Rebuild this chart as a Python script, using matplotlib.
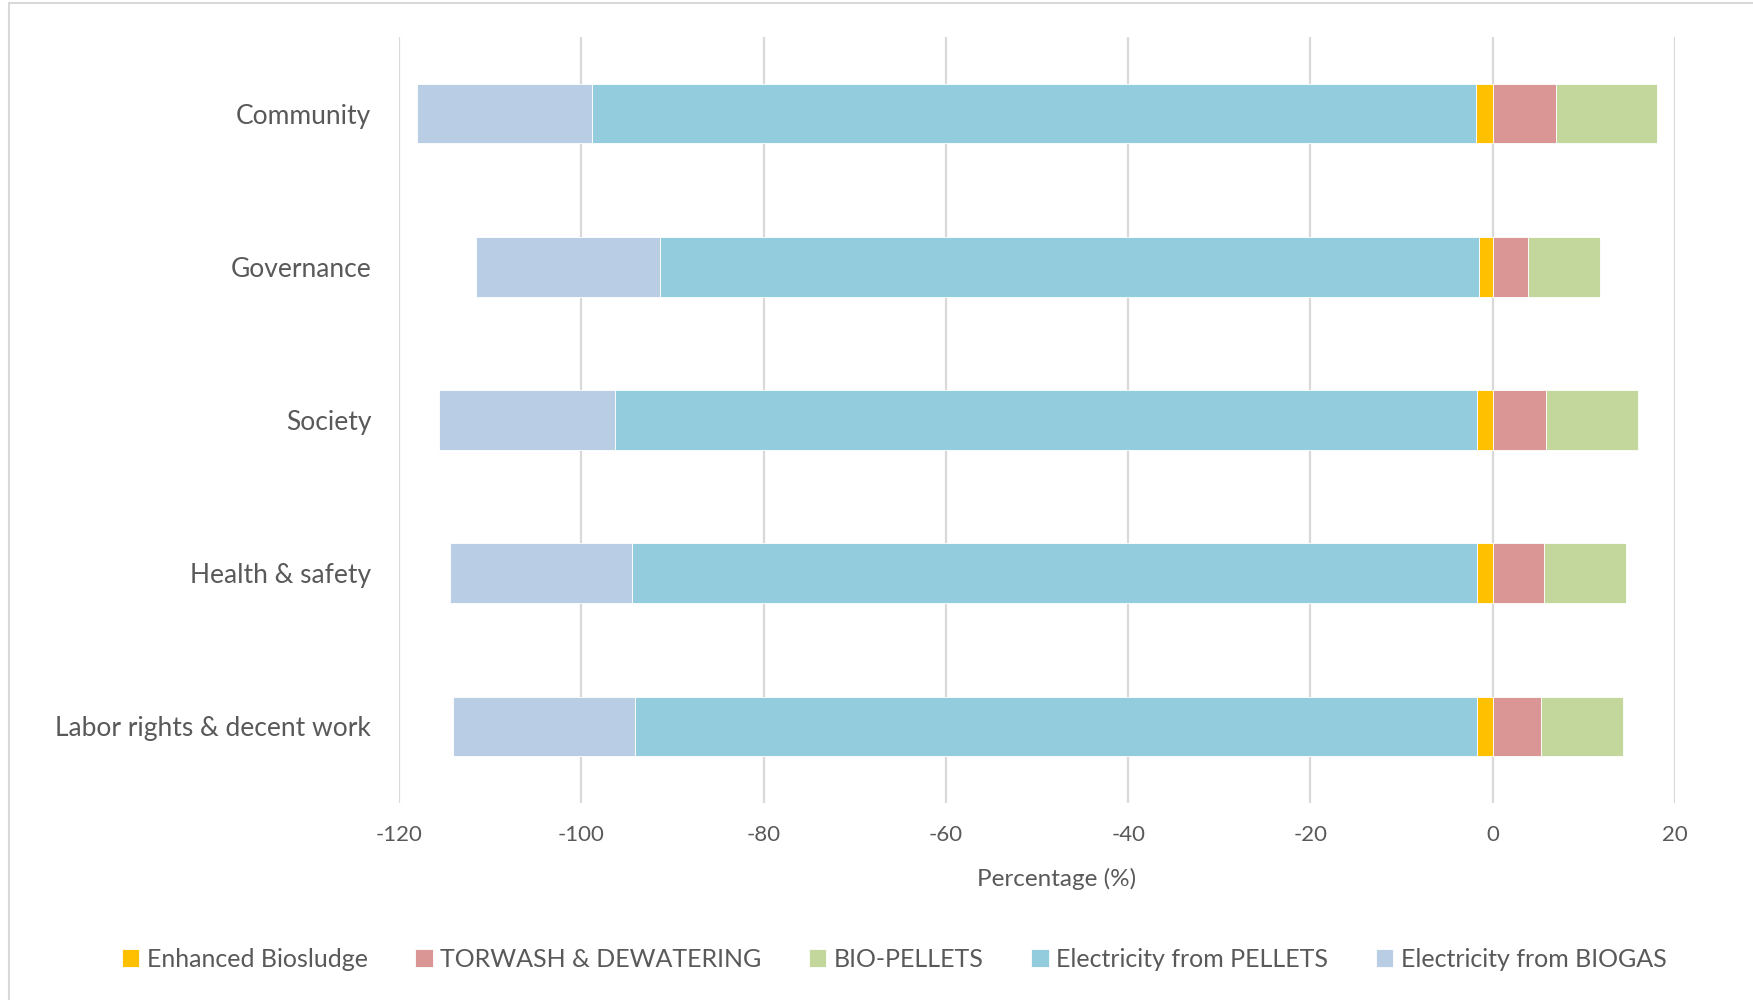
import numpy as np
import matplotlib.pyplot as plt
from matplotlib.patches import Rectangle

# categories bottom -> top
categories = ["Labor rights & decent work", "Health & safety", "Society", "Governance", "Community"]

# values (%)
biosludge = [-1.7, -1.7, -1.7, -1.5, -1.8]
torwash = [5.3, 5.6, 5.8, 3.9, 6.9]
bio_pellets = [9.0, 9.0, 10.1, 7.9, 11.1]
elec_pellets = [-92.4, -92.7, -94.6, -89.9, -97.0]
elec_biogas = [-20.0, -20.0, -19.3, -20.2, -19.2]

xticks = [-120, -100, -80, -60, -40, -20, 0, 20]

plt.rcParams['font.family'] = ['Lato', 'DejaVu Sans']
grey = '#595959'

fig = plt.figure(figsize=(17.53, 10), dpi=100)
ax = fig.add_axes([0.2276, 0.197, 0.7279, 0.766])

y = np.arange(len(categories))
h = 0.39
bs = np.array(biosludge)
ep = np.array(elec_pellets)
ax.barh(y, biosludge, h, color='#FFC000', edgecolor='white', linewidth=0.6, label='Enhanced Biosludge', zorder=3)
ax.barh(y, torwash, h, color='#D99694', edgecolor='white', linewidth=0.6, label='TORWASH & DEWATERING', zorder=3)
ax.barh(y, bio_pellets, h, left=torwash, color='#C3D69B', edgecolor='white', linewidth=0.6, label='BIO-PELLETS', zorder=3)
ax.barh(y, elec_pellets, h, left=bs, color='#93CDDD', edgecolor='white', linewidth=0.6, label='Electricity from PELLETS', zorder=3)
ax.barh(y, elec_biogas, h, left=bs + ep, color='#B9CDE5', edgecolor='white', linewidth=0.6, label='Electricity from BIOGAS', zorder=3)

ax.set_xlim(-120, 20)
ax.set_ylim(-0.5, 4.5)
ax.set_xticks(xticks)
ax.set_xticklabels([str(t) for t in xticks])
ax.set_yticks(y)
ax.set_yticklabels(categories)
ax.tick_params(axis='both', length=0, colors=grey)
ax.tick_params(axis='y', labelsize=19, pad=20)
ax.tick_params(axis='x', labelsize=16, pad=16)
for s in ax.spines.values():
    s.set_visible(False)
ax.grid(axis='x', color='#d9d9d9', linewidth=1.6, zorder=0)
ax.set_xlabel('Percentage (%)', fontsize=17.5, color=grey)
ax.xaxis.set_label_coords(0.515, -0.085)

ax.legend(loc='center', bbox_to_anchor=(0.388, -0.204), ncol=5, frameon=False,
          fontsize=18, labelcolor=grey, handlelength=0.7, handleheight=0.7,
          handletextpad=0.3, columnspacing=1.9)

fig.patches.append(Rectangle((0.005, -0.01), 1.0, 1.007, transform=fig.transFigure,
                             fill=False, edgecolor='#d9d9d9', linewidth=1.5))

fig.savefig('out.png', dpi=100)
